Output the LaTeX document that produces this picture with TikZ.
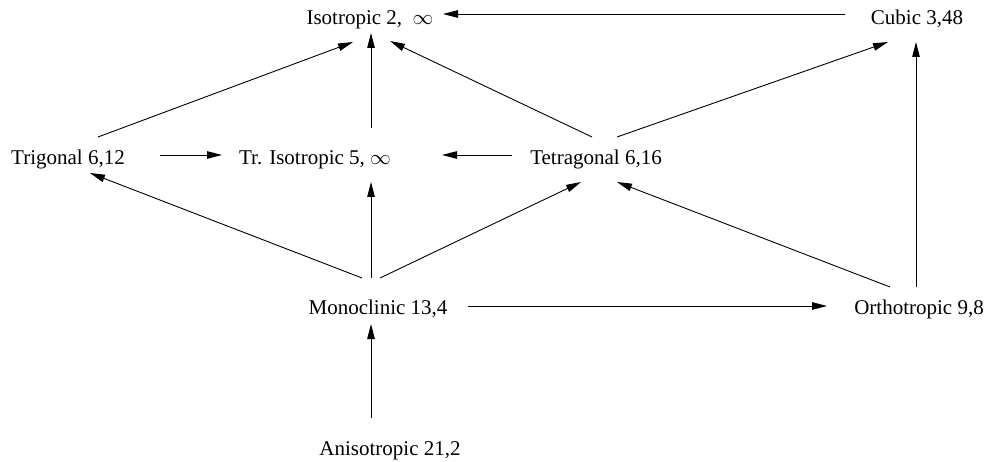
\documentclass[tikz,border=0pt]{standalone}
\usepackage{fontspec}
\setmainfont{Liberation Serif}
\usetikzlibrary{arrows.meta,calc}
\begin{document}
\begin{tikzpicture}[x=1pt,y=-1pt,
  lbl/.style={anchor=base,inner sep=0pt,font=\fontsize{21}{25}\selectfont},
  arr/.style={line width=0.9pt,-{Triangle[length=15pt,width=7.5pt]}}]
\useasboundingbox (0,0) rectangle (987,462);
\node[lbl] (iso)   at (370,25)  {Isotropic 2,\ \ $\infty$};
\node[lbl] (cubic) at (917,25)  {Cubic 3,48};
\node[lbl] (trig)  at (68,165)  {Trigonal 6,12};
\node[lbl] (triso) at (315,165) {Tr. Isotropic 5, $\infty$};
\node[lbl] (tet)   at (596,165) {Tetragonal 6,16};
\node[lbl] (mono)  at (378,314) {Monoclinic 13,4};
\node[lbl] (ortho) at (919,314) {Orthotropic 9,8};
\node[lbl] (aniso) at (390,455) {Anisotropic 21,2};
\draw[arr] ($(cubic.base)+(-72,-11)$) -- ($(iso.base)+(73,-11)$);
\draw[arr] ($(trig.base)+(30,-28)$) -- ($(iso.base)+(-17,17)$);
\draw[arr] ($(triso.base)+(56,-37)$) -- ($(iso.base)+(1,8)$);
\draw[arr] ($(tet.base)+(-4,-28)$) -- ($(iso.base)+(20,16)$);
\draw[arr] ($(tet.base)+(21,-28)$) -- ($(cubic.base)+(-29,17)$);
\draw[arr] ($(ortho.base)+(-3,-27)$) -- ($(cubic.base)+(-1,17)$);
\draw[arr] ($(trig.base)+(92,-10)$) -- ($(triso.base)+(-93,-10)$);
\draw[arr] ($(tet.base)+(-84,-10)$) -- ($(triso.base)+(127,-10)$);
\draw[arr] ($(mono.base)+(-16,-36)$) -- ($(trig.base)+(22,8)$);
\draw[arr] ($(mono.base)+(-7,-36)$) -- ($(triso.base)+(56,17)$);
\draw[arr] ($(mono.base)+(2,-36)$) -- ($(tet.base)+(-15,17)$);
\draw[arr] ($(ortho.base)+(-29,-27)$) -- ($(tet.base)+(21,17)$);
\draw[arr] ($(mono.base)+(90,-8)$) -- ($(ortho.base)+(-92,-8)$);
\draw[arr] ($(aniso.base)+(-19,-37)$) -- ($(mono.base)+(-7,10)$);
\end{tikzpicture}
\end{document}
